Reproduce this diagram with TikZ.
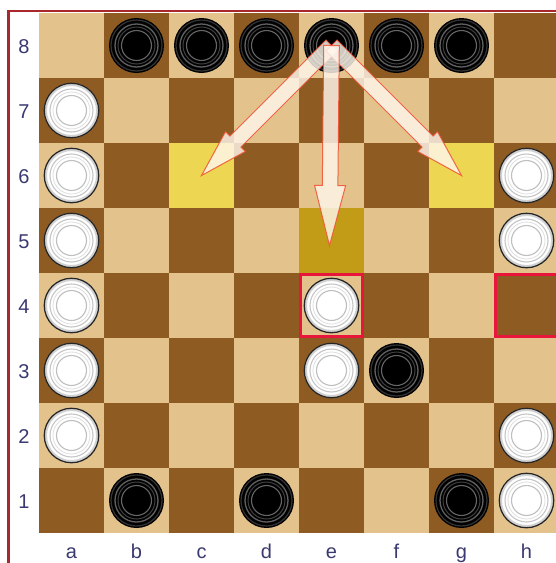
\documentclass[tikz,border=0pt]{standalone}
\usepackage{fontspec}
\setmainfont{Liberation Sans}
\usetikzlibrary{calc}
\definecolor{lightsq}{RGB}{227,194,140}
\definecolor{darksq}{RGB}{142,91,34}
\definecolor{boardframe}{RGB}{168,40,44}
\definecolor{hlyellow}{RGB}{237,215,82}
\definecolor{hlgold}{RGB}{194,156,22}
\definecolor{redframe}{RGB}{232,22,58}
\definecolor{lbl}{RGB}{58,58,112}
\definecolor{arrowfill}{RGB}{255,247,236}
\definecolor{arrowline}{RGB}{240,80,50}
\tikzset{
  blackpiece/.pic={
    \fill[black] (0,0) circle[radius=27.5pt];
    \draw[black!80,line width=1.2pt] (0,0) circle[radius=25.5pt];
    \draw[black!62,line width=1.3pt] (0,0) circle[radius=21.5pt];
    \draw[black!75,line width=1pt] (0,0) circle[radius=18.5pt];
    \draw[black!60,line width=1.1pt] (0,0) circle[radius=15pt];
  },
  whitepiece/.pic={
    \fill[white] (0,0) circle[radius=27.5pt];
    \draw[gray!35,line width=2pt] (0,0) circle[radius=25.5pt];
    \draw[black!85,line width=1.3pt] (0,0) circle[radius=27.2pt];
    \draw[gray!45,line width=1.1pt] (0,0) circle[radius=21.5pt];
    \draw[gray!25,line width=0.8pt] (0,0) circle[radius=18.5pt];
    \draw[gray!50,line width=1.1pt] (0,0) circle[radius=15pt];
  },
  lblstyle/.style={text=lbl,font=\fontsize{20}{24}\selectfont,inner sep=0pt,anchor=base},
  arrowstyle/.style={fill=arrowfill,fill opacity=0.82,draw=arrowline,draw opacity=0.85,line width=1pt,line join=miter},
  markframe/.style={draw=redframe,line width=3pt}
}
\newcommand{\chessarrow}[4]{%
  \coordinate (ab) at ($(#2)!#3!(#1)$);
  \filldraw[arrowstyle] ($(#1)!7.8pt!90:(#2)$) -- ($(ab)!7.8pt!90:(#2)$) -- ($(ab)!#4!90:(#2)$) -- (#2)
     -- ($(ab)!#4!-90:(#2)$) -- ($(ab)!7.8pt!-90:(#2)$) -- ($(#1)!7.8pt!-90:(#2)$) -- cycle;
}
\begin{document}
\begin{tikzpicture}[x=1pt,y=-1pt]
\useasboundingbox (0,0) rectangle (556,563);
\clip (0,0) rectangle (556,563);
\fill[white] (0,0) rectangle (556,563);
% squares
\foreach \f [count=\c from 0] in {a,b,c,d,e,f,g,h}{
  \foreach \r in {1,...,8}{
    \pgfmathtruncatemacro{\dk}{mod(\c+\r,2)}
    \pgfmathsetmacro{\xx}{39+65*\c}
    \pgfmathsetmacro{\yy}{13+65*(8-\r)}
    \ifnum\dk=1 \def\sqc{darksq}\else\def\sqc{lightsq}\fi
    \fill[\sqc] (\xx,\yy) rectangle ++(65,65);
    \coordinate (sq-\f\r) at (\xx+32.5,\yy+32.5);
  }
}
% highlighted squares
\fill[hlyellow] ($(sq-c6)+(-32.5,-32.5)$) rectangle ++(65,65);
\fill[hlyellow] ($(sq-g6)+(-32.5,-32.5)$) rectangle ++(65,65);
\fill[hlgold] ($(sq-e5)+(-32.5,-32.5)$) rectangle ++(65,65);
% marked squares
\draw[markframe] ($(sq-e4)+(-31,-31)$) rectangle ++(62,62);
\draw[markframe] ($(sq-h4)+(-31,-31)$) rectangle ++(62,62);
% frame
\draw[boardframe,line width=2.5pt] (8.7,563) -- (8.7,11) -- (556,11);
% labels
\foreach \r in {1,...,8}{
  \node[lblstyle] (rank-\r) at (24,{13+65*(8-\r)+32.5+8}) {\r};
}
\foreach \f [count=\c from 0] in {a,b,c,d,e,f,g,h}{
  \node[lblstyle] (file-\f) at ({39+65*\c+32.5},558) {\f};
}
% pieces
\foreach \s in {b8,c8,d8,e8,f8,g8,f3,b1,d1,g1}{
  \pic at (sq-\s) {blackpiece};
}
\foreach \s in {a7,a6,h6,a5,h5,a4,e4,a3,e3,a2,h2,h1}{
  \pic at (sq-\s) {whitepiece};
}
% arrows
\coordinate (from-e8) at (sq-e8);
\chessarrow{from-e8}{sq-c6}{48pt}{14pt}
\chessarrow{from-e8}{sq-g6}{48pt}{14pt}
\coordinate (to-e5) at ($(sq-e5)+(-2,5)$);
\chessarrow{from-e8}{to-e5}{60pt}{15.5pt}
\end{tikzpicture}
\end{document}
